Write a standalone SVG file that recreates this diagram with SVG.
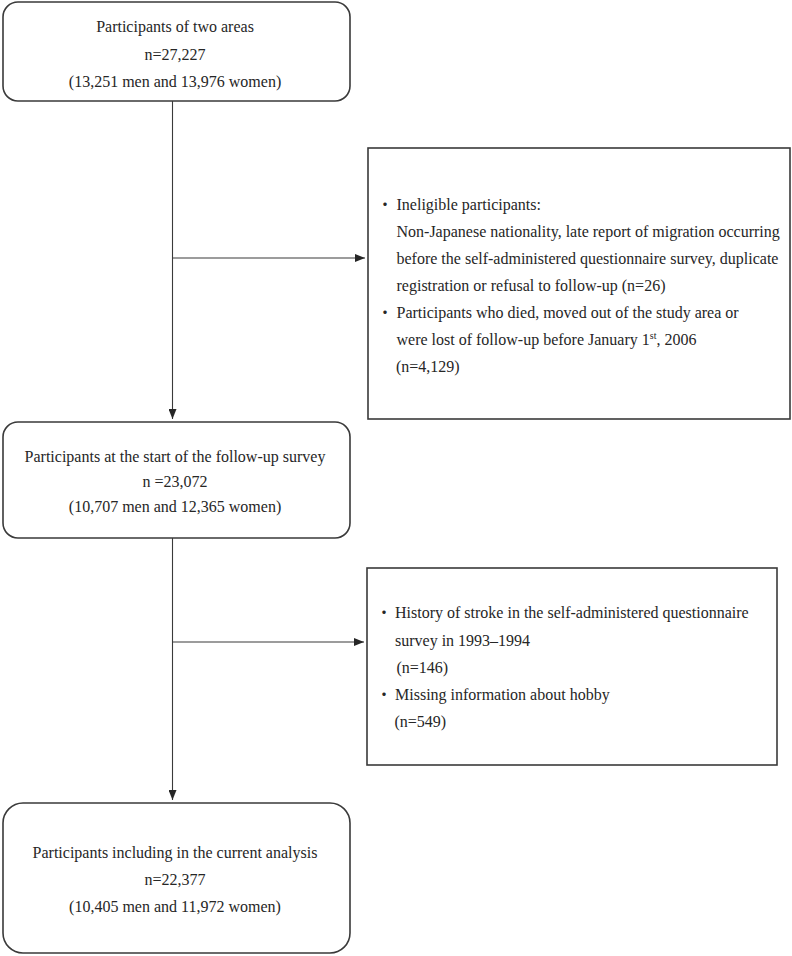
<svg xmlns="http://www.w3.org/2000/svg" width="792" height="956" viewBox="0 0 792 956">
<defs>
<marker id="ah" markerWidth="10" markerHeight="8" refX="10" refY="4" orient="auto" markerUnits="userSpaceOnUse">
<path d="M0,0 L10,4 L0,8 Z" fill="#262626"/>
</marker>
<style>
.box{fill:#fff;stroke:#3a3a3a;stroke-width:1.6}
.t{font-family:"Liberation Serif","Times New Roman","Noto Sans CJK JP",serif;font-size:16px;fill:#262626}
.c{text-anchor:middle}
.ln{stroke:#3a3a3a;stroke-width:1.1;fill:none}
</style>
</defs>
<rect width="792" height="956" fill="#fff"/>
<g id="connectors">
<line class="ln" x1="172.5" y1="101" x2="172.5" y2="419" marker-end="url(#ah)"/>
<line class="ln" x1="172.5" y1="258" x2="365" y2="258" marker-end="url(#ah)"/>
<line class="ln" x1="172.5" y1="538" x2="172.5" y2="800" marker-end="url(#ah)"/>
<line class="ln" x1="172.5" y1="642" x2="364" y2="642" marker-end="url(#ah)"/>
</g>
<g id="n1">
<rect class="box" x="3" y="2" width="347" height="99" rx="15"/>
<text class="t c" x="175" y="32">Participants of two areas</text>
<text class="t c" x="175" y="60">n=27,227</text>
<text class="t c" x="175" y="87">(13,251 men and 13,976 women)</text>
</g>
<g id="n2">
<rect class="box" x="368" y="148" width="422" height="271"/>
<text class="t"><tspan x="377" y="210">・</tspan><tspan x="396.5">Ineligible participants:</tspan></text>
<text class="t" x="396.5" y="237">Non-Japanese nationality, late report of migration occurring</text>
<text class="t" x="396.5" y="264">before the self-administered questionnaire survey, duplicate</text>
<text class="t" x="396.5" y="291">registration or refusal to follow-up (n=26)</text>
<text class="t"><tspan x="377" y="318">・</tspan><tspan x="396.5">Participants who died, moved out of the study area or</tspan></text>
<text class="t" x="396.5" y="345">were lost of follow-up before January 1<tspan font-size="10" dy="-6">st</tspan><tspan dy="6">, 2006</tspan></text>
<text class="t" x="396" y="372">(n=4,129)</text>
</g>
<g id="n3">
<rect class="box" x="3" y="422" width="347" height="116" rx="15"/>
<text class="t c" x="175" y="462">Participants at the start of the follow-up survey</text>
<text class="t c" x="175" y="487">n =23,072</text>
<text class="t c" x="175" y="512">(10,707 men and 12,365 women)</text>
</g>
<g id="n4">
<rect class="box" x="367" y="568" width="410" height="197"/>
<text class="t"><tspan x="376" y="618">・</tspan><tspan x="395">History of stroke in the self-administered questionnaire</tspan></text>
<text class="t" x="395" y="646">survey in 1993–1994</text>
<text class="t" x="396.5" y="673">(n=146)</text>
<text class="t"><tspan x="376" y="700">・</tspan><tspan x="395">Missing information about hobby</tspan></text>
<text class="t" x="394.5" y="727">(n=549)</text>
</g>
<g id="n5">
<rect class="box" x="3" y="803" width="347" height="150" rx="20"/>
<text class="t c" x="175" y="858">Participants including in the current analysis</text>
<text class="t c" x="175" y="885">n=22,377</text>
<text class="t c" x="175" y="912">(10,405 men and 11,972 women)</text>
</g>
</svg>
